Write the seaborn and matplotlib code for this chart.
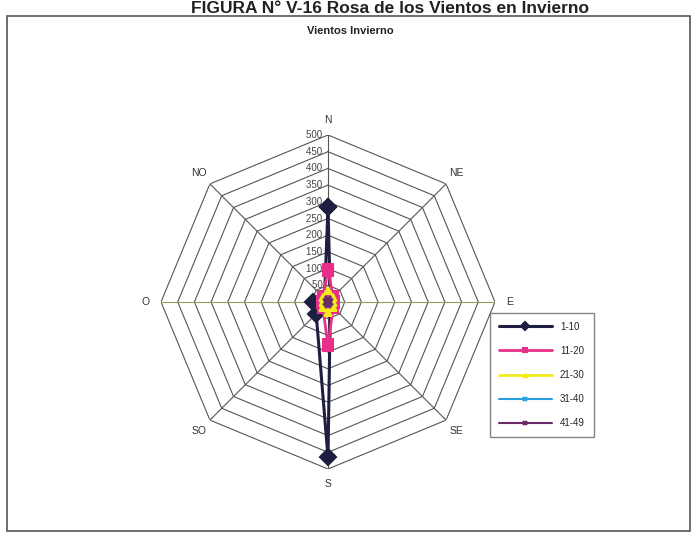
import numpy as np
import pandas as pd
import matplotlib
matplotlib.use("Agg")
import matplotlib.pyplot as plt
import seaborn as sns
from matplotlib.patches import Rectangle

directions = ['N', 'NE', 'E', 'SE', 'S', 'SO', 'O', 'NO']
series = ['1-10', '11-20', '21-30', '31-40', '41-49']
v_1_10 = [285, 10, 10, 10, 465, 50, 45, 15]
v_11_20 = [95, 22, 18, 22, 130, 22, 18, 22]
v_21_30 = [35, 22, 15, 22, 30, 22, 15, 22]
v_31_40 = [4, 3, 3, 3, 4, 3, 3, 3]
v_41_49 = [8, 6, 6, 6, 8, 6, 6, 6]
radial_ticks = list(range(0, 550, 50))

values = [v_1_10, v_11_20, v_21_30, v_31_40, v_41_49]
colors = ['#1e1e40', '#e8308a', '#f2ec1c', '#2a9fe0', '#6a2a6a']
markers = ['D', 's', '^', 'x', 'x']
msizes = [8, 7, 5, 5, 5]
lws = [2.2, 2.0, 2.0, 1.5, 1.5]

angles = np.deg2rad(np.arange(0, 360, 45))

sns.set_style('white')
plt.rcParams['font.family'] = ['Liberation Sans', 'DejaVu Sans']

fig = plt.figure(figsize=(6.93, 5.34), dpi=100)
W, H = 693, 534

# chart frame and headings
fig.patches.append(Rectangle((7 / W, 1 - 531 / H), 683 / W, 515 / H, transform=fig.transFigure,
                             fill=False, edgecolor='#555555', lw=1.2))
fig.text(390 / W, 1 - 13 / H, 'FIGURA N° V-16 Rosa de los Vientos en Invierno', ha='center',
         va='baseline', fontsize=12.5, fontweight='bold', color='#222222')
fig.text(350 / W, 1 - 31 / H, 'Vientos Invierno', ha='center', va='center', fontsize=8,
         fontweight='bold', color='#222222')

cx, cy, R = 328, 302, 167
ax = fig.add_axes([(cx - R) / W, (H - cy - R) / H, 2 * R / W, 2 * R / H], projection='polar')
ax.set_theta_zero_location('N')
ax.set_theta_direction(-1)
ax.set_facecolor('none')
ax.grid(False)
ax.spines['polar'].set_visible(False)

# octagonal grid
closed = np.append(angles, angles[0])
for r in radial_ticks[1:]:
    ax.plot(closed, [r] * len(closed), color='#555555', lw=0.8, zorder=1)
for i, t in enumerate(angles):
    c = '#9a9a5a' if directions[i] in ('E', 'O') else '#555555'
    ax.plot([t, t], [0, 500], color=c, lw=0.8, zorder=1)

for name, vals, c, m, ms, lw in zip(series, values, colors, markers, msizes, lws):
    d = pd.DataFrame({'theta': closed, 'r': vals + [vals[0]]})
    sns.lineplot(data=d, x='theta', y='r', sort=False, estimator=None, color=c, marker=m,
                 markersize=ms, markeredgecolor=c, markeredgewidth=1.5, linewidth=lw,
                 label=name, ax=ax, zorder=3)

ax.set_ylim(0, 500)
ax.set_xticks([])
ax.set_yticks([])
ax.set_xlabel('')
ax.set_ylabel('')

# direction labels
for t, lab in zip(angles, directions):
    ax.text(t, 545, lab, ha='center', va='center', fontsize=7.5, color='#333333')
# radial labels
for r in radial_ticks:
    ax.text(0, r, str(r) + '  ', ha='right', va='center', fontsize=7, color='#444444', zorder=2)

h, l = ax.get_legend_handles_labels()
ax.get_legend().remove()
leg = fig.legend(h, l, loc='upper left', bbox_to_anchor=(490 / W, 1 - 313 / H), fontsize=7,
                 frameon=True, fancybox=False, edgecolor='#666666', handlelength=5.5,
                 labelspacing=1.45, borderpad=0.9, markerscale=0.5, borderaxespad=0)
leg.get_frame().set_linewidth(1.0)

fig.savefig('out.png', dpi=100)
